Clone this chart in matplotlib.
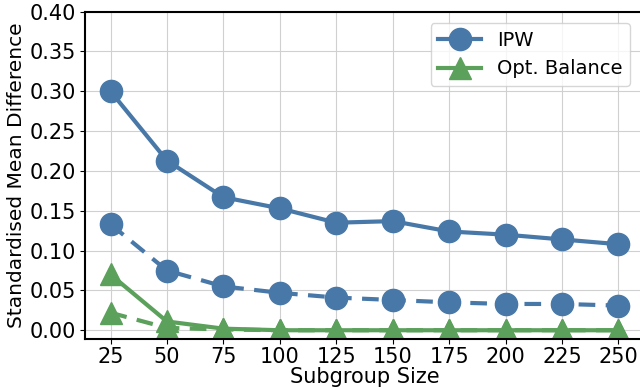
import matplotlib
matplotlib.use("Agg")
import matplotlib.pyplot as plt

# Subgroup sizes and standardised mean differences
sizes = [25, 50, 75, 100, 125, 150, 175, 200, 225, 250]
ipw_solid = [0.300, 0.213, 0.167, 0.153, 0.135, 0.137, 0.124, 0.120, 0.114, 0.108]
ipw_dashed = [0.133, 0.075, 0.055, 0.047, 0.041, 0.038, 0.035, 0.033, 0.033, 0.031]
opt_solid = [0.070, 0.011, 0.002, 0.000, 0.000, 0.000, 0.000, 0.000, 0.000, 0.000]
opt_dashed = [0.022, 0.003, 0.001, 0.000, 0.000, 0.000, 0.000, 0.000, 0.000, 0.000]

blue = "#4878A8"
green = "#5BA05B"

fig = plt.figure(figsize=(6.4, 3.87), dpi=100)
ax = fig.add_axes([0.133, 0.124, 0.873, 0.846])

ax.plot(sizes, ipw_solid, color=blue, linewidth=3, marker="o", markersize=16, label="IPW")
ax.plot(sizes, ipw_dashed, color=blue, linewidth=3, linestyle="--", dashes=(4, 2.5), marker="o", markersize=16)
ax.plot(sizes, opt_solid, color=green, linewidth=3, marker="^", markersize=16, label="Opt. Balance")
ax.plot(sizes, opt_dashed, color=green, linewidth=3, linestyle="--", dashes=(4, 2.5), marker="^", markersize=16)

ax.set_xlim(13.75, 261.25)
ax.set_ylim(-0.011, 0.40)
ax.set_xticks(sizes)
ax.set_yticks([0.0, 0.05, 0.10, 0.15, 0.20, 0.25, 0.30, 0.35, 0.40])
ax.set_yticklabels([f"{v:.2f}" for v in ax.get_yticks()])
ax.tick_params(labelsize=15, pad=2)
ax.tick_params(axis="y", pad=3)
ax.grid(True, color="#d0d0d0", linewidth=0.8)
ax.set_axisbelow(True)
for s in ax.spines.values():
    s.set_linewidth(1.5)

ax.set_xlabel("Subgroup Size", fontsize=15, labelpad=0)
ax.set_ylabel("Standardised Mean Difference", fontsize=14.5, labelpad=3)
ax.legend(loc="upper right", fontsize=14, bbox_to_anchor=(0.9925, 0.995), handlelength=2.2)

fig.savefig("out.png", dpi=100)
